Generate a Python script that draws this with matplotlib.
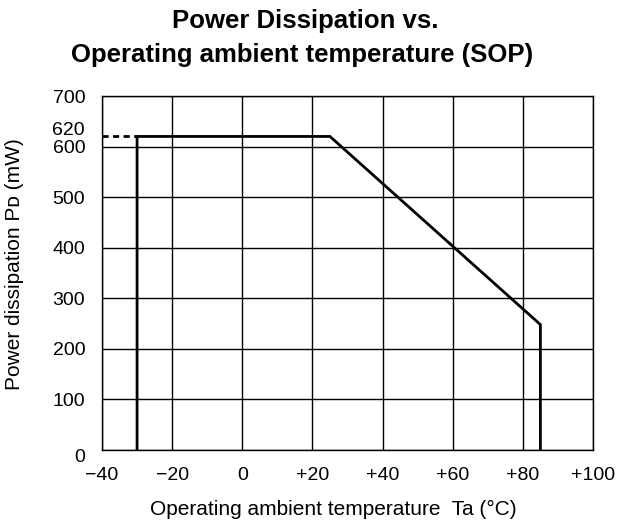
import matplotlib
matplotlib.use("Agg")
import matplotlib.pyplot as plt
import matplotlib.transforms as mtransforms

plt.rcParams['font.family'] = ['Liberation Sans', 'DejaVu Sans']

# Derating curve: temperature (°C) vs allowed power dissipation (mW)
temp_c = [-30, -30, 25, 85, 85]
power_mw = [0, 620, 620, 248, 0]

# Dashed reference at the rated power level
ref_temp = [-40, -30]
ref_power = [620, 620]

x_ticks = [-40, -20, 0, 20, 40, 60, 80, 100]
x_tick_labels = ['\u221240', '\u221220', '0', '+20', '+40', '+60', '+80', '+100']
y_ticks = [0, 100, 200, 300, 400, 500, 600, 700]
y_tick_labels = ['0', '100', '200', '300', '400', '500', '600', '700']
rated_value = 620
rated_label = '620'

W, H = 619, 527
fig = plt.figure(figsize=(W / 100, H / 100), dpi=100)
left, right, top, bottom = 102, 593, 96, 450
ax = fig.add_axes([left / W, 1 - bottom / H, (right - left) / W, (bottom - top) / H])

ax.set_xlim(-40, 100)
ax.set_ylim(0, 700)
ax.set_xticks(x_ticks)
ax.set_xticklabels(x_tick_labels, fontsize=14)
ax.set_yticks(y_ticks)
ax.set_yticklabels(y_tick_labels, fontsize=14)
ax.tick_params(length=0, pad=12)
ax.grid(True, color='black', linewidth=1.0)
ax.set_axisbelow(True)
for s in ax.spines.values():
    s.set_linewidth(1.0)

# nudge the "0" label on the y axis slightly downward
zero_lbl = ax.get_yticklabels()[0]
zero_lbl.set_transform(zero_lbl.get_transform() +
                       mtransforms.ScaledTranslation(0, -5 / 100, fig.dpi_scale_trans))

ax.plot(temp_c, power_mw, color='black', linewidth=2.0, solid_joinstyle='miter', zorder=3)
ax.plot(ref_temp, ref_power, color='black', linewidth=2.0, linestyle=(0, (2.2, 1.6)), zorder=3)

# Rated power label placed just above the 600 label
trans = mtransforms.blended_transform_factory(ax.transAxes, ax.transData)
trans = trans + mtransforms.ScaledTranslation(0, 6 / 100, fig.dpi_scale_trans)
ax.text(-17 / (right - left), rated_value, rated_label, transform=trans,
        ha='right', va='center', fontsize=14)

ax.set_xlabel('Operating ambient temperature  Ta (\u00b0C)', fontsize=15)
ax.xaxis.label.set_va('baseline')
ax.xaxis.set_label_coords((333.5 - left) / (right - left), (bottom - 515) / (bottom - top))

ax.set_ylabel('Power dissipation P\u1d05 (mW)', fontsize=15)
ax.yaxis.label.set_va('baseline')
ax.yaxis.set_label_coords((20 - left) / (right - left), (bottom - 264) / (bottom - top))

fig.text(305 / W, 1 - 28 / H, 'Power Dissipation vs.', ha='center', va='baseline',
         fontsize=18.5, fontweight='bold')
fig.text(302 / W, 1 - 62 / H, 'Operating ambient temperature (SOP)', ha='center',
         va='baseline', fontsize=18.5, fontweight='bold')

fig.savefig('out.png', dpi=100)
